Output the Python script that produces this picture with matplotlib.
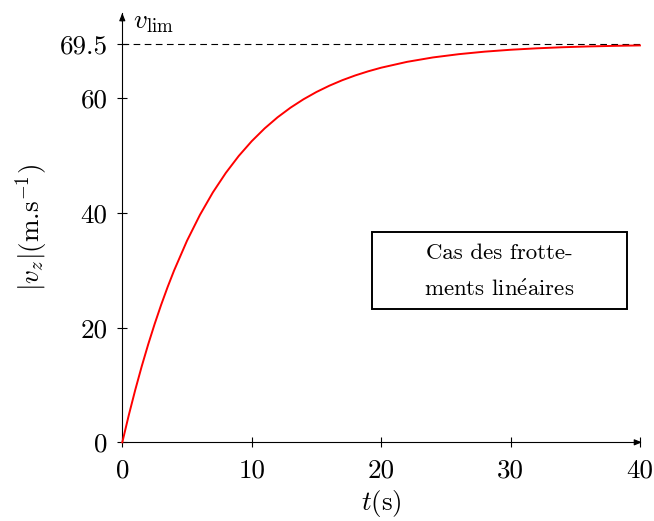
"""
chute avec frottements lineaires : |v_z| en fonction de t
"""
import matplotlib
matplotlib.use("Agg")
import matplotlib.pyplot as plt
from matplotlib.patches import Rectangle

plt.rcParams['mathtext.fontset'] = 'cm'
plt.rcParams['font.family'] = ['cmr10', 'DejaVu Serif']
plt.rcParams['axes.formatter.use_mathtext'] = True

# valeurs (t en s, |v_z| en m/s)
t_s = [0, 0.5, 1, 1.5, 2, 2.5, 3, 3.5, 4, 5, 6, 7, 8, 9, 10, 11, 12, 13, 14,
       15, 16, 17, 18, 19, 20, 22, 24, 26, 28, 30, 32, 34, 36, 38, 40]
vz = [0, 4.73, 9.14, 13.25, 17.08, 20.65, 23.98, 27.08, 29.97, 35.17, 39.68,
      43.61, 47.01, 49.97, 52.54, 54.77, 56.71, 58.39, 59.85, 61.12, 62.22,
      63.18, 64.01, 64.73, 65.36, 66.38, 67.15, 67.72, 68.16, 68.49, 68.74,
      68.93, 69.07, 69.17, 69.25]
v_lim = 69.5
x_ticks = [0, 10, 20, 30, 40]
y_ticks = [0, 20, 40, 60, 69.5]
y_ticklabels = ['0', '20', '40', '60', '69.5']
box_text = "Cas des frotte-\nments lin" + r"$\mathrm{\acute{e}}$" + "aires"

fig = plt.figure(figsize=(6.54, 5.21), dpi=100)
ax = fig.add_axes([0.187, 0.151, 0.7915, 0.824])

ax.plot(t_s, vz, color='red', lw=1.4, zorder=3, clip_on=False)
ax.plot([0, 40], [v_lim, v_lim], color='black', lw=0.8,
        dashes=(6, 4), zorder=2)

ax.set_xlim(0, 40)
ax.set_ylim(0, 74.9)

for s in ('top', 'right'):
    ax.spines[s].set_visible(False)
ax.spines['left'].set_linewidth(0.8)
ax.spines['bottom'].set_linewidth(0.8)

# fleches au bout des axes
arr = dict(arrowstyle='-|>,head_length=0.45,head_width=0.18',
           color='black', lw=0.8, shrinkA=0, shrinkB=0)
ax.annotate('', xy=(1.004, 0), xytext=(0.99, 0), xycoords='axes fraction',
            arrowprops=arr)
ax.annotate('', xy=(0, 1.0), xytext=(0, 0.98), xycoords='axes fraction',
            arrowprops=arr)

ax.set_xticks(x_ticks)
ax.set_xticklabels([str(v) for v in x_ticks])
ax.set_yticks(y_ticks)
ax.set_yticklabels(y_ticklabels)
ax.tick_params(direction='inout', length=7, width=0.8, labelsize=19.5)
ax.tick_params(axis='x', pad=8)
ax.tick_params(axis='y', pad=7)

ax.set_xlabel(r'$t$(s)', fontsize=19.5, labelpad=4)
ax.set_ylabel(r'$|v_z|$(m.s$^{-1}$)', fontsize=19.5, labelpad=7)

ax.text(0.021, 0.965, r'$v_{\mathrm{lim}}$', transform=ax.transAxes,
        fontsize=19.5, ha='left', va='baseline')

# cadre de la legende
ax.add_patch(Rectangle((0.482, 0.310), 0.4925, 0.181, transform=ax.transAxes,
                       fill=False, edgecolor='black', lw=1.4))
ax.text(0.728, 0.397, box_text, transform=ax.transAxes, fontsize=16.5,
        ha='center', va='center', linespacing=1.95)

fig.savefig('out.png', dpi=100)
